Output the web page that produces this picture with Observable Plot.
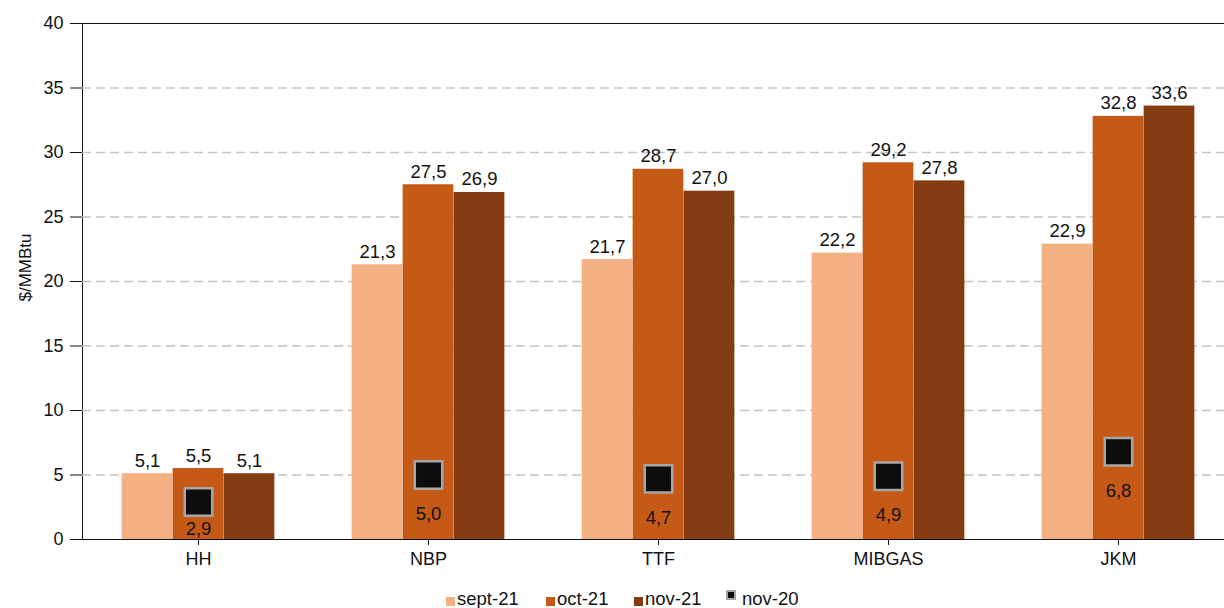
<!DOCTYPE html>
<html><head><meta charset="utf-8">
<script src="https://cdn.jsdelivr.net/npm/d3@7"></script>
<script src="https://cdn.jsdelivr.net/npm/@observablehq/plot@0.6"></script>
<style>
body{margin:0;background:#fff;font-family:"Liberation Sans",Arial,Helvetica,sans-serif;overflow:hidden;}
#chart svg{display:block;}
#legend{position:relative;height:28px;font-size:18.5px;color:#111;}
.item{position:absolute;top:9px;line-height:20px;white-space:nowrap;}
.sw{display:inline-block;width:9px;height:9px;vertical-align:-1px;margin-right:2px;}
.mk{display:inline-block;width:6px;height:6px;background:#0d0d0d;border:2px solid #a6a6a6;vertical-align:5px;margin-right:6px;}
</style></head><body>
<div id="chart"></div>
<div id="legend"></div>
<script>
const hubs = ["HH", "NBP", "TTF", "MIBGAS", "JKM"];
const seriesNames = ["sept-21", "oct-21", "nov-21"];
const sept21 = [5.1, 21.3, 21.7, 22.2, 22.9];
const oct21 = [5.5, 27.5, 28.7, 29.2, 32.8];
const nov21 = [5.1, 26.9, 27.0, 27.8, 33.6];
const nov20Name = "nov-20";
const nov20 = [2.9, 5.0, 4.7, 4.9, 6.8];
const yTicks = [0, 5, 10, 15, 20, 25, 30, 35, 40];
const gridTicks = [5, 10, 15, 20, 25, 30, 35];
const yLabel = "$/MMBtu";
const colors = ["#f4b183", "#c55a17", "#843c12"];

const seriesValues = [sept21, oct21, nov21];
const bars = hubs.flatMap((h, i) => seriesNames.map((s, k) => ({hub: h, series: s, value: seriesValues[k][i]})));
const markers = hubs.map((h, i) => ({hub: h, value: nov20[i]}));
const fmt = d => d.value.toFixed(1).replace(".", ",");

const step = 51;
const inset = (230.25 - step) / 2;
const offsets = [-step, 0, step];
const font = '"Liberation Sans", Arial, Helvetica, sans-serif';

const marks = [
  Plot.ruleY(gridTicks, {stroke: "#c4c4c4", strokeWidth: 1.3, strokeDasharray: "9,5"})
];
seriesNames.forEach((s, k) => {
  const data = bars.filter(d => d.series === s);
  marks.push(Plot.barY(data, {x: "hub", y: "value", fill: colors[k], insetLeft: inset, insetRight: inset, dx: offsets[k]}));
});
seriesNames.forEach((s, k) => {
  const data = bars.filter(d => d.series === s);
  marks.push(Plot.text(data, {x: "hub", y: "value", text: fmt, dx: offsets[k], dy: -7, lineAnchor: "bottom", fill: "#111", fontSize: 18.5}));
});
marks.push(Plot.ruleY([40], {stroke: "#111", strokeWidth: 1.2}));
marks.push(Plot.ruleY([0], {stroke: "#111", strokeWidth: 1.2}));
marks.push(Plot.dot(markers, {x: "hub", y: "value", symbol: "square", r: 15.5, fill: "#0d0d0d", stroke: "#a6a6a6", strokeWidth: 2.5}));
marks.push(Plot.text(markers.filter(d => d.hub !== "HH"), {x: "hub", y: "value", text: fmt, dy: 39, lineAnchor: "middle", fill: "#111", fontSize: 18.5}));
marks.push(Plot.text(markers.filter(d => d.hub === "HH"), {x: "hub", y: "value", text: fmt, dy: 27, lineAnchor: "middle", fill: "#111", fontSize: 18.5}));
marks.push(Plot.text([yLabel], {frameAnchor: "left", text: d => d, rotate: -90, dx: -57, dy: 20, fill: "#111", fontSize: 17}));

const chart = Plot.plot({
  width: 1224,
  height: 580,
  marginTop: 23,
  marginBottom: 41,
  marginLeft: 82,
  marginRight: -9,
  style: {fontFamily: font, fontSize: "18px", color: "#111", background: "#fff"},
  x: {type: "band", domain: hubs, padding: 0, tickSize: 6, tickPadding: 7, label: null},
  y: {domain: [0, 40], ticks: yTicks, tickSize: 12, tickPadding: 7, line: true, label: null, tickFormat: d => String(d)},
  marks
});
document.getElementById("chart").appendChild(chart);

const legend = document.getElementById("legend");
const legendItems = [
  {name: seriesNames[0], left: 446, color: colors[0]},
  {name: seriesNames[1], left: 546, color: colors[1]},
  {name: seriesNames[2], left: 634, color: colors[2]},
  {name: nov20Name, left: 726, marker: true}
];
legendItems.forEach(it => {
  const el = document.createElement("div");
  el.className = "item";
  el.style.left = it.left + "px";
  const sw = document.createElement("span");
  if (it.marker) { sw.className = "mk"; }
  else { sw.className = "sw"; sw.style.background = it.color; }
  el.appendChild(sw);
  el.appendChild(document.createTextNode(it.name));
  legend.appendChild(el);
});
</script>
</body></html>
